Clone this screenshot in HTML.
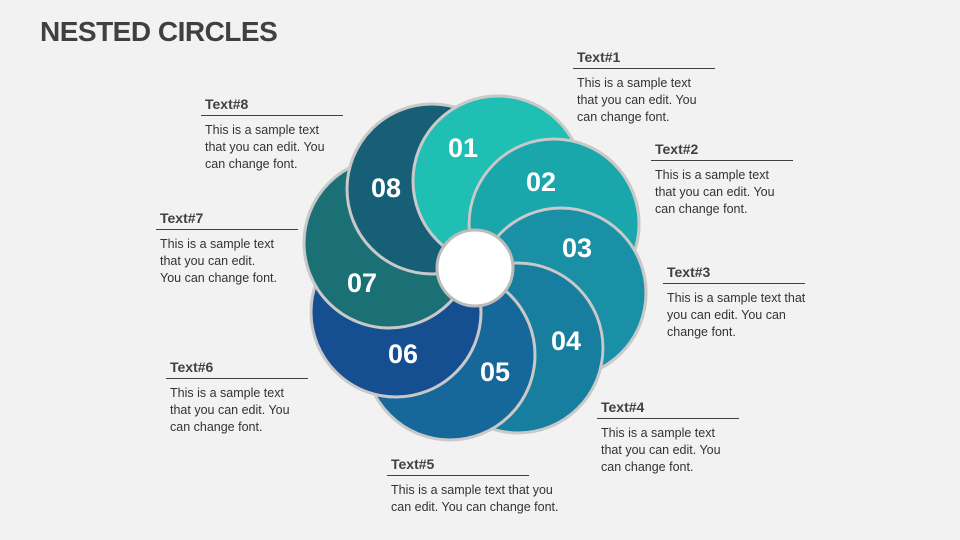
<!DOCTYPE html>
<html><head><meta charset="utf-8"><style>
body{margin:0;width:960px;height:540px;background:#f2f2f2;overflow:hidden;position:relative;font-family:"Liberation Sans",sans-serif}
h1{position:absolute;left:40px;top:16px;margin:0;font-size:28px;font-weight:bold;color:#404040;letter-spacing:-0.5px}
.t{position:absolute;color:#404040}
.t b{display:block;font-size:14px;padding:0 0 3px 4px;border-bottom:1.3px solid #404040;width:138px}
.t p{margin:6px 0 0 4px;font-size:12.5px;line-height:17px;color:#333}
svg{position:absolute;left:0;top:0}
</style></head><body>
<h1>NESTED CIRCLES</h1>
<svg width="960" height="540">
<defs>
<mask id="m1" maskUnits="userSpaceOnUse" x="0" y="0" width="960" height="540">
<rect width="960" height="540" fill="#fff"/>
<circle cx="554" cy="224" r="86.5" fill="#000"/>
<circle cx="561" cy="293" r="86.5" fill="#000"/>
<circle cx="518" cy="348" r="86.5" fill="#000"/>
</mask>
<mask id="m2" maskUnits="userSpaceOnUse" x="0" y="0" width="960" height="540">
<rect width="960" height="540" fill="#fff"/>
<circle cx="561" cy="293" r="86.5" fill="#000"/>
<circle cx="518" cy="348" r="86.5" fill="#000"/>
<circle cx="450" cy="355" r="86.5" fill="#000"/>
</mask>
<mask id="m3" maskUnits="userSpaceOnUse" x="0" y="0" width="960" height="540">
<rect width="960" height="540" fill="#fff"/>
<circle cx="518" cy="348" r="86.5" fill="#000"/>
<circle cx="450" cy="355" r="86.5" fill="#000"/>
<circle cx="396" cy="312" r="86.5" fill="#000"/>
</mask>
</defs>
<g stroke="#c9c9c9" stroke-width="3">
<circle cx="498" cy="181" r="85" fill="#1fbfb3"/>
<circle cx="554" cy="224" r="85" fill="#1aa7ab"/>
<circle cx="561" cy="293" r="85" fill="#1990a6"/>
<circle cx="518" cy="348" r="85" fill="#177e9f"/>
<circle cx="450" cy="355" r="85" fill="#17689a"/>
<circle cx="396" cy="312" r="85" fill="#164e92"/>
<circle cx="389" cy="243" r="85" fill="#1b7076"/>
<circle cx="432" cy="189" r="85" fill="#175f76"/>
<circle cx="561" cy="293" r="85" fill="#1990a6" mask="url(#m3)"/>
<circle cx="554" cy="224" r="85" fill="#1aa7ab" mask="url(#m2)"/>
<circle cx="498" cy="181" r="85" fill="#1fbfb3" mask="url(#m1)"/>
</g>
<circle cx="475" cy="268" r="38" fill="#fff" stroke="#bbb" stroke-width="3"/>
<g fill="#fff" font-family="Liberation Sans" font-weight="bold" font-size="27" text-anchor="middle">
<text x="463" y="157">01</text><text x="541" y="191">02</text><text x="577" y="257">03</text><text x="566" y="350">04</text>
<text x="495" y="381">05</text><text x="403" y="363">06</text><text x="362" y="292">07</text><text x="386" y="197">08</text>
</g>
</svg>
<div class="t" style="left:573px;top:49px"><b>Text#1</b><p>This is a sample text<br>that you can edit. You<br>can change font.</p></div>
<div class="t" style="left:651px;top:141px"><b>Text#2</b><p>This is a sample text<br>that you can edit. You<br>can change font.</p></div>
<div class="t" style="left:663px;top:264px"><b>Text#3</b><p>This is a sample text that<br>you can edit. You can<br>change font.</p></div>
<div class="t" style="left:597px;top:399px"><b>Text#4</b><p>This is a sample text<br>that you can edit. You<br>can change font.</p></div>
<div class="t" style="left:387px;top:456px"><b>Text#5</b><p>This is a sample text that you<br>can edit. You can change font.</p></div>
<div class="t" style="left:166px;top:359px"><b>Text#6</b><p>This is a sample text<br>that you can edit. You<br>can change font.</p></div>
<div class="t" style="left:156px;top:210px"><b>Text#7</b><p>This is a sample text<br>that you can edit.<br>You can change font.</p></div>
<div class="t" style="left:201px;top:96px"><b>Text#8</b><p>This is a sample text<br>that you can edit. You<br>can change font.</p></div>
</body></html>
